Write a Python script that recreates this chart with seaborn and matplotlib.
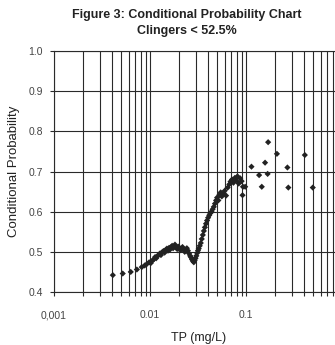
import seaborn as sns
import matplotlib.pyplot as plt
import matplotlib.ticker as mticker
import pandas as pd
import numpy as np

sns.set_style("ticks")
plt.rcParams['font.family'] = ['Liberation Sans', 'DejaVu Sans']

# values
tp = [0.0041, 0.0052, 0.0063, 0.0073, 0.0082, 0.0088, 0.0093, 0.0098, 0.0102, 0.0106,
      0.0110, 0.0113, 0.0116, 0.0120, 0.0124, 0.0127, 0.0130, 0.0134, 0.0138, 0.0142,
      0.0146, 0.0150, 0.0154, 0.0158, 0.0162, 0.0166, 0.0170, 0.0174, 0.0178, 0.0182,
      0.0187, 0.0192, 0.0197, 0.0202, 0.0207, 0.0212, 0.0218, 0.0224, 0.0230, 0.0236,
      0.0242, 0.0248, 0.0255, 0.0262, 0.0268, 0.0274, 0.0280, 0.0286, 0.0292, 0.0298,
      0.0304, 0.0310, 0.0316, 0.0322, 0.0330, 0.0338, 0.0346, 0.0355, 0.0364, 0.0373,
      0.0383, 0.0393, 0.0403, 0.0414, 0.0425, 0.0437, 0.0449, 0.0462, 0.0475, 0.0488,
      0.0500, 0.0515, 0.0530, 0.0545, 0.0560, 0.0580, 0.0600, 0.0620, 0.0645, 0.0670,
      0.0690, 0.0715, 0.0740, 0.0765, 0.0790, 0.0815, 0.0840, 0.0870, 0.0900, 0.0930,
      0.0920, 0.0980, 0.1140, 0.1370, 0.1460, 0.1580, 0.1680, 0.1700, 0.2100, 0.2700,
      0.2760, 0.4100, 0.4960]
prob = [0.442, 0.446, 0.450, 0.456, 0.462, 0.466, 0.470, 0.474, 0.472, 0.478,
        0.482, 0.487, 0.484, 0.490, 0.493, 0.496, 0.492, 0.499, 0.502, 0.498,
        0.505, 0.508, 0.503, 0.510, 0.506, 0.512, 0.515, 0.509, 0.513, 0.518,
        0.511, 0.507, 0.513, 0.509, 0.504, 0.508, 0.512, 0.506, 0.500, 0.504,
        0.509, 0.503, 0.496, 0.490, 0.486, 0.481, 0.477, 0.474, 0.479, 0.484,
        0.490, 0.497, 0.503, 0.508, 0.515, 0.522, 0.532, 0.542, 0.552, 0.561,
        0.570, 0.578, 0.585, 0.591, 0.596, 0.600, 0.606, 0.612, 0.620, 0.628,
        0.635, 0.628, 0.642, 0.648, 0.638, 0.645, 0.652, 0.640, 0.660, 0.668,
        0.675, 0.680, 0.672, 0.684, 0.678, 0.688, 0.670, 0.683, 0.676, 0.662,
        0.641, 0.662, 0.712, 0.691, 0.662, 0.722, 0.694, 0.773, 0.744, 0.710,
        0.660, 0.741, 0.660]
x_ticks = [0.001, 0.01, 0.1]
x_labels = ['0,001', '0.01', '0.1']
y_ticks = [0.4, 0.5, 0.6, 0.7, 0.8, 0.9, 1.0]

df = pd.DataFrame({'TP': tp, 'Prob': prob})

fig = plt.figure(figsize=(3.35, 3.45), dpi=100)
# axes runs past the right edge, like the cropped scan
ax = fig.add_axes([54/335, 53/345, 288/335, 241/345])

sns.scatterplot(data=df, x='TP', y='Prob', marker='D', s=10, color='#222222',
                edgecolor='none', ax=ax, zorder=3)

ax.set_xscale('log')
ax.set_xlim(0.001, 1)
ax.set_ylim(0.4, 1.0)
ax.set_xticks(x_ticks)
ax.set_xticklabels(x_labels)
ax.xaxis.set_minor_locator(mticker.LogLocator(base=10, subs=np.arange(2, 10)))
ax.xaxis.set_minor_formatter(mticker.NullFormatter())
ax.set_yticks(y_ticks)
ax.set_yticklabels(['%.1f' % v for v in y_ticks])

GRID = {'color': '#2a2a2a', 'lw': 0.8}
ax.grid(True, which='major', axis='both', **GRID)
ax.grid(True, which='minor', axis='x', **GRID)
ax.set_axisbelow(True)

for sp in ax.spines.values():
    sp.set_color('#2a2a2a')
    sp.set_linewidth(0.8)
ax.tick_params(axis='both', which='major', labelsize=7.5, colors='#2a2a2a',
               labelcolor='#444444', length=3, width=0.8, pad=5)
ax.tick_params(axis='x', which='major', pad=10)
ax.tick_params(axis='x', which='minor', length=3, width=0.8, color='#2a2a2a')

ax.set_xlabel('TP (mg/L)', fontsize=9, color='#222222')
ax.set_ylabel('Conditional Probability', fontsize=9.5, color='#222222')
ax.xaxis.set_label_coords(145/288, -40/241)
ax.yaxis.set_label_coords(-34/288, 0.5)

fig.text(187/335, 1 - 15/345, 'Figure 3: Conditional Probability Chart',
         ha='center', va='center', fontsize=9, fontweight='bold', color='#222222')
fig.text(187/335, 1 - 31/345, 'Clingers < 52.5%',
         ha='center', va='center', fontsize=9, fontweight='bold', color='#222222')

fig.savefig('out.png', dpi=100)
